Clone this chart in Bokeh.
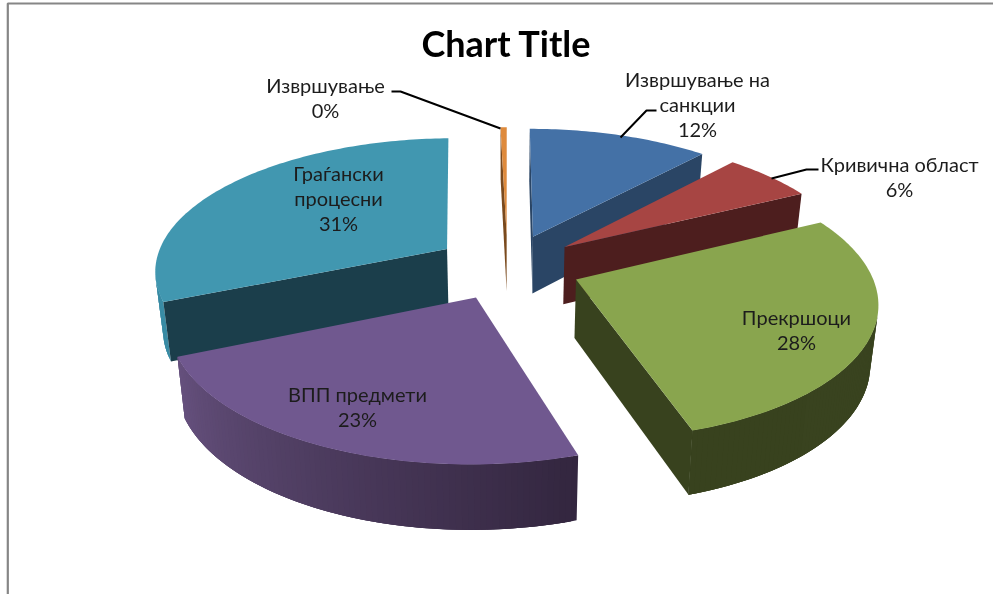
import math
from bokeh.plotting import figure
from bokeh.models import Range1d, ColumnDataSource
from bokeh.core.properties import value
from bokeh.embed import file_html
from bokeh.resources import INLINE

# ---- data ----
categories = ["Извршување на санкции", "Кривична област", "Прекршоци",
              "ВПП предмети", "Граѓански процесни", "Извршување"]
shares = [11.7, 5.9, 27.5, 23.45, 31.05, 0.4]
percent_labels = ["12%", "6%", "28%", "23%", "31%", "0%"]
title_text = "Chart Title"

# ---- styles ----
top_colors = ["#4471A6", "#A74543", "#89A54E", "#70588F", "#4197B0", "#DE8A3C"]
face_colors = ["#2A4565", "#4D1E1E", "#38421E", "#33263F", "#1B3E4B", "#7A4A1E"]
wall_from = ["#2A4565", "#4D1E1E", "#3A4420", "#33263F", "#3A8CA5", "#7A4A1E"]
wall_to = ["#2A4565", "#4D1E1E", "#38421E", "#66517E", "#2C7A92", "#7A4A1E"]
draw_order = [0, 5, 1, 2, 4, 3]
hidden_faces = {(4, 1)}
FONT = "Lato"

# projection of the 3-D pie onto the page
CX, CY, RX, RY = 507.0, 266.0, 293.0, 132.0
PERSP, EXPLODE, DEPTH, CONVERGE = 0.148, 0.25, 58.0, 0.022


def top_point(theta, offx, offy, r=1.0):
    x = r * math.sin(theta) + offx
    y = r * math.cos(theta) + offy
    w = 1 + PERSP * y
    return CX + RX * x / w, CY - RY * y / w, w


def bottom_point(theta, offx, offy, r=1.0):
    sx, sy, w = top_point(theta, offx, offy, r)
    return CX + (sx - CX) * (1 - CONVERGE), sy + DEPTH / w ** 0.6


def area(pts):
    return sum(pts[i][0] * pts[(i + 1) % len(pts)][1] - pts[(i + 1) % len(pts)][0] * pts[i][1]
               for i in range(len(pts))) / 2


def mix(a, b, t):
    ca = [int(a[i:i + 2], 16) for i in (1, 3, 5)]
    cb = [int(b[i:i + 2], 16) for i in (1, 3, 5)]
    return "#%02x%02x%02x" % tuple(round(u + (v - u) * t) for u, v in zip(ca, cb))


total = sum(shares)
bounds = [0.0]
for s in shares:
    bounds.append(bounds[-1] + s / total * 2 * math.pi)

xs, ys, fills = [], [], []


def add(pts, color):
    xs.append([p[0] for p in pts])
    ys.append([p[1] for p in pts])
    fills.append(color)


for i in draw_order:
    a0, a1 = bounds[i], bounds[i + 1]
    mid = (a0 + a1) / 2
    ox, oy = EXPLODE * math.sin(mid), EXPLODE * math.cos(mid)
    n = max(2, int(math.degrees(a1 - a0)))
    angles = [a0 + (a1 - a0) * k / n for k in range(n + 1)]
    # outer wall: each strip reaches over the next one, so no seams show
    for k in range(n):
        t0, t1 = angles[k], angles[k + 1]
        quad = [top_point(t0, ox, oy)[:2], top_point(t1, ox, oy)[:2],
                bottom_point(t1, ox, oy), bottom_point(t0, ox, oy)]
        if area(quad) < 0:
            t2 = angles[min(k + 3, n)]
            wide = [top_point(t0, ox, oy)[:2], top_point((t0 + t2) / 2, ox, oy)[:2],
                    top_point(t2, ox, oy)[:2], bottom_point(t2, ox, oy),
                    bottom_point((t0 + t2) / 2, ox, oy), bottom_point(t0, ox, oy)]
            add(wide, mix(wall_from[i], wall_to[i], k / n))
    # radial faces
    for idx, (t, sign) in enumerate(((a0, -1), (a1, 1))):
        face = [top_point(0, ox, oy, 0)[:2], top_point(t, ox, oy)[:2],
                bottom_point(t, ox, oy), bottom_point(0, ox, oy, 0)]
        if (area(face) * sign > 0 or i == 5) and (i, idx) not in hidden_faces:
            add(face, face_colors[i])
    # top face
    add([top_point(0, ox, oy, 0)[:2]] + [top_point(t, ox, oy)[:2] for t in angles], top_colors[i])

p = figure(width=993, height=594, output_backend="svg", toolbar_location=None,
           x_range=Range1d(0, 993), y_range=Range1d(594, 0),
           x_axis_type=None, y_axis_type=None, min_border=0,
           outline_line_color=None, background_fill_color="#ffffff",
           styles={"position": "fixed", "left": "0", "top": "0"})
p.grid.visible = False

# chart-area frame
p.line([7.3, 7.3, 993], [594, 3, 3], line_color="#868686", line_width=2.2)

p.patches("xs", "ys", source=ColumnDataSource(dict(xs=xs, ys=ys, fill=fills)),
          fill_color="fill", line_color=None)

# leader lines
for lx, ly in (([391, 400, 500], [91, 91, 128]),
               ([656, 646, 620], [110, 110, 137]),
               ([818, 806, 771], [169, 169, 178])):
    p.line(lx, ly, line_color="#000000", line_width=2)

# label layout: (lines, centre x, first line y)
name_lines = [["Извршување на", "санкции"], ["Кривична област"], ["Прекршоци"],
              ["ВПП предмети"], ["Граѓански", "процесни"], ["Извршување"]]
label_anchor = [(697, 78), (899, 163), (796, 316), (357, 393), (338, 172), (325, 84)]
LINE = 25.4
tx, ty, tt = [], [], []
for names, pct, (ax, ay) in zip(name_lines, percent_labels, label_anchor):
    for j, s in enumerate(names + [pct]):
        tx.append(ax)
        ty.append(ay + j * LINE)
        tt.append(s)
p.text(tx, ty, text=tt, text_font=value(FONT), text_font_size="20px", text_color="#1c1c1c",
       text_align="center", text_baseline="middle")

p.text([506], [42], text=[title_text], text_font=value("Lato"), text_font_size="36px",
       text_font_style="bold", text_color="#000000", text_align="center", text_baseline="middle")

open("out.html", "w").write(file_html(p, INLINE))
